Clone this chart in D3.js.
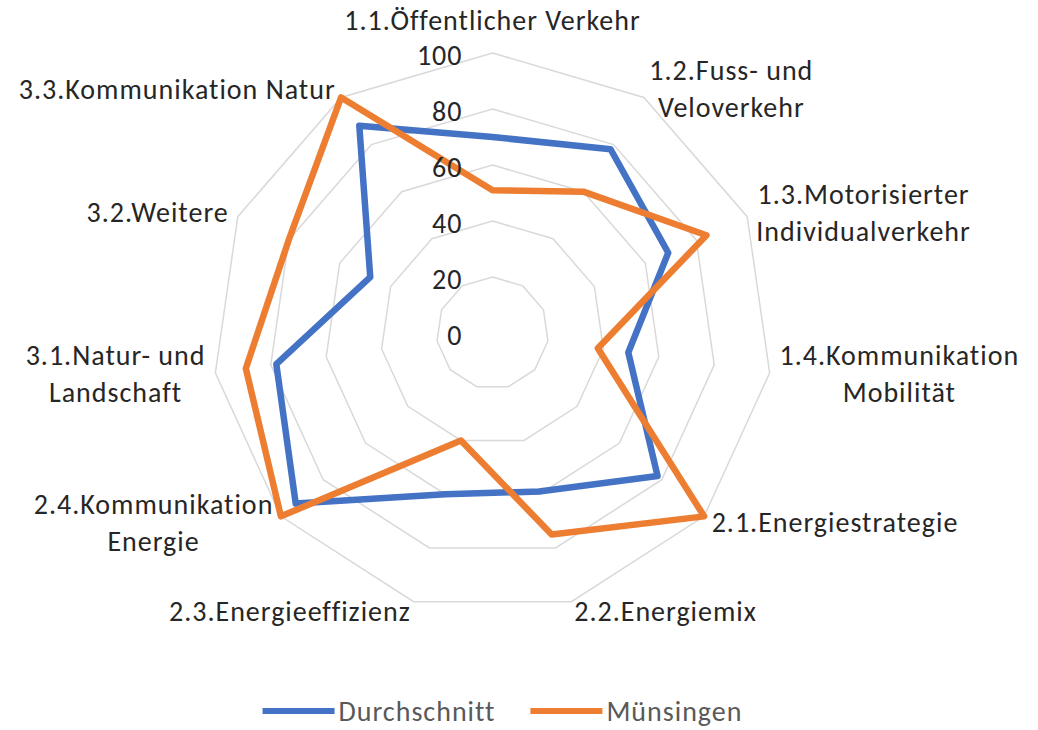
<!DOCTYPE html>
<html>
<head>
<meta charset="utf-8">
<script src="https://cdn.jsdelivr.net/npm/d3@7"></script>
<style>
    body { margin: 0; background: #ffffff; }
    text { font-family: Carlito, Calibri, Lato, sans-serif; letter-spacing: 1px; }
</style>
</head>
<body>
<svg id="chart" width="1038" height="730"></svg>
<script>
// Categories of the radar (one axis each), "\n" marks the wrapped line
const categories = [
    "1.1.Öffentlicher Verkehr",
    "1.2.Fuss- und\nVeloverkehr",
    "1.3.Motorisierter\nIndividualverkehr",
    "1.4.Kommunikation\nMobilität",
    "2.1.Energiestrategie",
    "2.2.Energiemix",
    "2.3.Energieeffizienz",
    "2.4.Kommunikation\nEnergie",
    "3.1.Natur- und\nLandschaft",
    "3.2.Weitere",
    "3.3.Kommunikation Natur"
];

const durchschnitt = [70, 78, 69, 49, 78, 59, 60, 93, 78, 48, 88];
const muensingen   = [51, 60, 84, 38, 100, 75, 40, 100, 89, 80, 100];

const seriesNames  = ["Durchschnitt", "Münsingen"];
const seriesColors = ["#4472C4", "#ED7D31"];

const tickValues = [0, 20, 40, 60, 80, 100];

// Layout
const width = 1038, height = 730;
const cx = 492.5, cy = 333;
const radius = 280;
const fontSize = 28;
const lineHeight = 37;

const svg = d3.select("#chart");
const r = d3.scaleLinear().domain([0, 100]).range([0, radius]);
const step = 2 * Math.PI / categories.length;

const g = svg.append("g").attr("transform", `translate(${cx},${cy})`);

// Grid rings (no spokes, like the original)
const ring = d3.lineRadial()
    .angle((d, i) => i * step)
    .radius(d => r(d))
    .curve(d3.curveLinearClosed);

g.append("g").selectAll("path")
    .data(tickValues.filter(v => v > 0))
    .join("path")
        .attr("d", v => ring(categories.map(() => v)))
        .attr("fill", "none")
        .attr("stroke", "#d9d9d9")
        .attr("stroke-width", 1.5);

// Series polygons
const seriesData = [durchschnitt, muensingen];
g.append("g").selectAll("path")
    .data(seriesData)
    .join("path")
        .attr("d", d => ring(d))
        .attr("fill", "none")
        .attr("stroke", (d, i) => seriesColors[i])
        .attr("stroke-width", 6.5)
        .attr("stroke-linejoin", "round");

// Tick labels along the top axis
g.append("g").selectAll("text")
    .data(tickValues)
    .join("text")
        .attr("x", -30)
        .attr("y", v => -r(v) + 2)
        .attr("text-anchor", "end")
        .attr("dominant-baseline", "central")
        .attr("font-size", fontSize)
        .attr("fill", "#262626")
        .text(v => v);

// Category labels, placed just outside the outer ring
const labelPad = 10;
const labels = g.append("g").selectAll("g")
    .data(categories)
    .join("g");

labels.each(function(name, i) {
    const a = i * step;
    const s = Math.sin(a), c = Math.cos(a);
    const px = (radius + labelPad) * s;
    const py = -(radius + labelPad) * c;
    const lines = name.split("\n");
    const node = d3.select(this);

    const texts = node.selectAll("text")
        .data(lines)
        .join("text")
            .attr("font-size", fontSize)
            .attr("fill", "#262626")
            .attr("text-anchor", "middle")
            .attr("dominant-baseline", "central")
            .text(d => d);

    const w = d3.max(texts.nodes(), t => t.getComputedTextLength());
    let bx = px;
    if (s > 0.05) bx = px + w / 2;
    else if (s < -0.05) bx = px - w / 2;
    const top = c > 0.95 ? py - lineHeight * 0.62 : py;
    const y0 = top - (lines.length - 1) * lineHeight / 2;

    texts.attr("x", bx).attr("y", (d, k) => y0 + k * lineHeight);
});

// Legend
const legendY = 711;
const legend = svg.append("g");
const items = legend.selectAll("g")
    .data(seriesNames)
    .join("g");

items.append("line")
    .attr("x1", 0).attr("x2", 72)
    .attr("y1", 0).attr("y2", 0)
    .attr("stroke", (d, i) => seriesColors[i])
    .attr("stroke-width", 6);

items.append("text")
    .attr("x", 76)
    .attr("y", 0)
    .attr("dominant-baseline", "central")
    .attr("font-size", fontSize)
    .attr("fill", "#595959")
    .text(d => d);

const itemWidths = items.nodes().map(n => 76 + d3.select(n).select("text").node().getComputedTextLength());
const gap = 35;
const total = d3.sum(itemWidths) + gap * (itemWidths.length - 1);
let xPos = (cx + 10) - total / 2;
items.attr("transform", (d, i) => {
    const t = `translate(${xPos},${legendY})`;
    xPos += itemWidths[i] + gap;
    return t;
});
</script>
</body>
</html>
